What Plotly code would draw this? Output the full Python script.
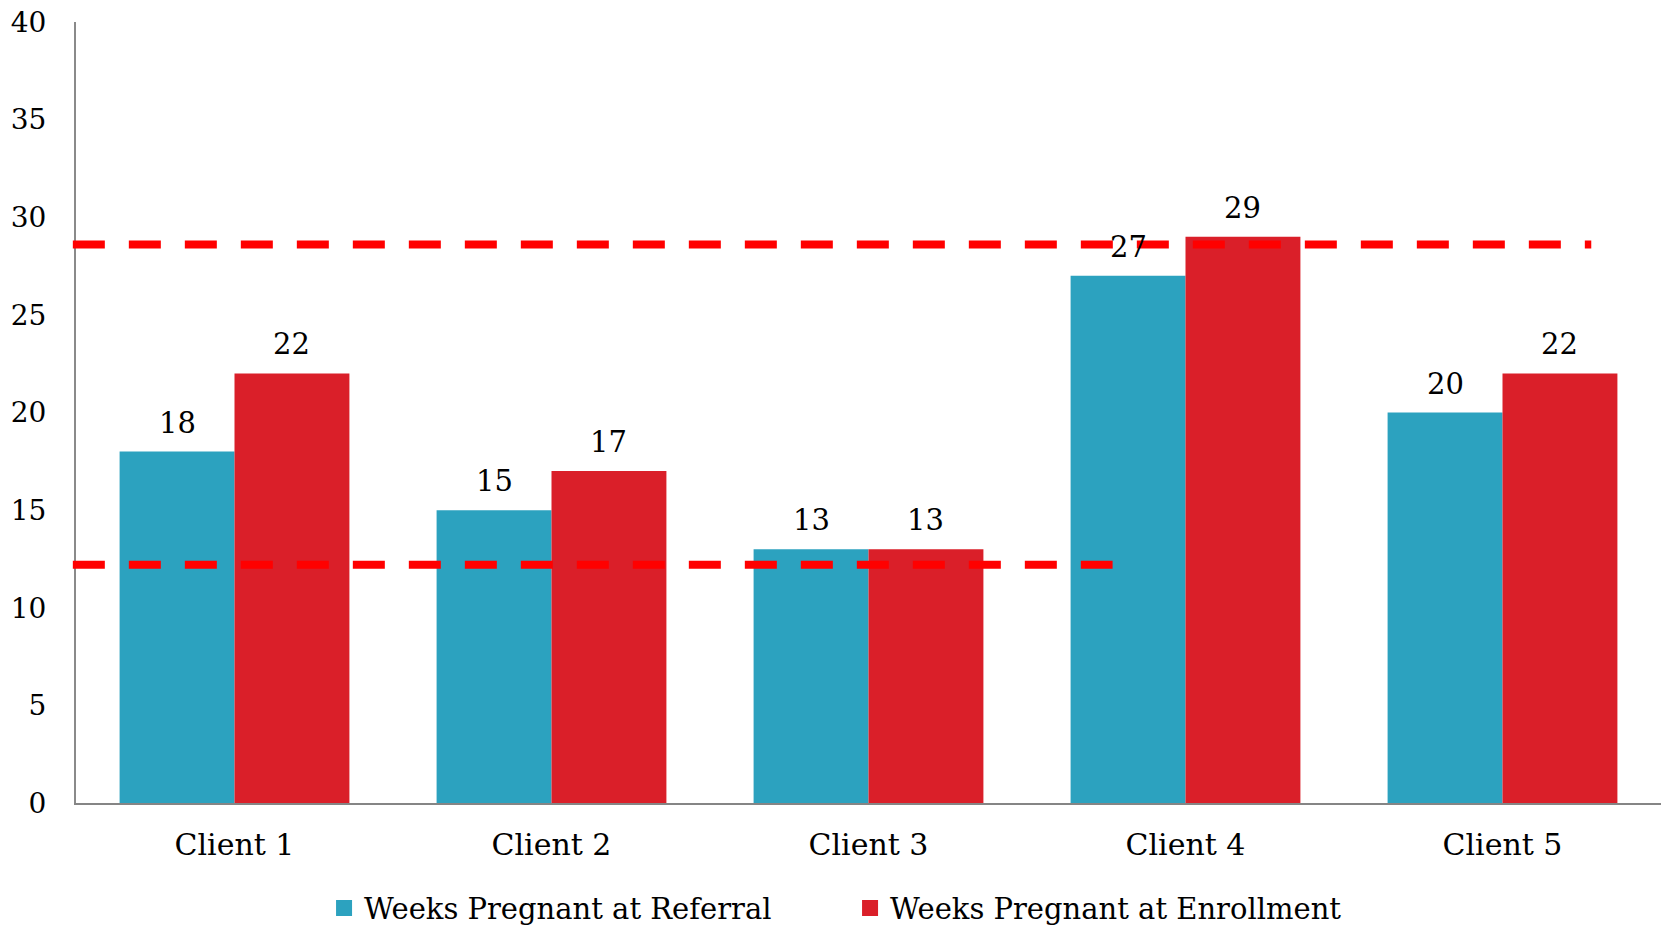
import plotly.graph_objects as go

clients = ["Client 1", "Client 2", "Client 3", "Client 4", "Client 5"]
weeks_referral = [18, 15, 13, 27, 20]
weeks_enrollment = [22, 17, 13, 29, 22]
series_names = ["Weeks Pregnant at Referral", "Weeks Pregnant at Enrollment"]
y_ticks = [0, 5, 10, 15, 20, 25, 30, 35, 40]
upper_ref_level = 28.6
lower_ref_level = 12.2

BLUE = "#2CA2BF"
RED = "#DA1F29"
FONT = "DejaVu Serif"

fig = go.Figure()
fig.add_trace(go.Bar(x=clients, y=weeks_referral, name=series_names[0],
                     marker=dict(color=BLUE, line=dict(width=0)), showlegend=False))
fig.add_trace(go.Bar(x=clients, y=weeks_enrollment, name=series_names[1],
                     marker=dict(color=RED, line=dict(width=0)), showlegend=False))

# legend entries with larger square swatches
for name, col in zip(series_names, [BLUE, RED]):
    fig.add_trace(go.Scatter(x=[None], y=[None], mode="markers", name=name,
                             marker=dict(symbol="square", size=16, color=col)))

# value labels above each bar
bargap = 0.275
half = (1 - bargap) / 4  # offset of each bar centre in category units
plot_w = 1661 - 76
cat_px = plot_w / len(clients)
for series, sign in [(weeks_referral, -1), (weeks_enrollment, 1)]:
    for c, v in zip(clients, series):
        fig.add_annotation(x=c, y=v, text=str(v), showarrow=False,
                           xshift=sign * half * cat_px, yshift=10, yanchor="bottom",
                           font=dict(family=FONT, size=29, color="#000000"))

# dashed reference lines
fig.add_shape(type="line", xref="paper", yref="y", x0=-0.002, x1=0.956,
              y0=upper_ref_level, y1=upper_ref_level,
              line=dict(color="#FF0000", width=8, dash="32px,24px"), layer="above")
fig.add_shape(type="line", xref="paper", yref="y", x0=-0.002, x1=0.654,
              y0=lower_ref_level, y1=lower_ref_level,
              line=dict(color="#FF0000", width=8, dash="32px,24px"), layer="above")

fig.update_layout(
    width=1661, height=926,
    margin=dict(l=76, r=0, t=22, b=123, autoexpand=False),
    paper_bgcolor="white", plot_bgcolor="white",
    barmode="group", bargap=bargap, bargroupgap=0,
    font=dict(family=FONT, color="#000000"),
    legend=dict(orientation="h", x=0.1565, xanchor="left", y=-0.1345, yanchor="middle",
                font=dict(family=FONT, size=29), itemclick=False, entrywidth=481),
)
fig.update_xaxes(showline=True, linecolor="#858585", linewidth=2, showgrid=False,
                 ticks="", tickfont=dict(family=FONT, size=30), ticklabelstandoff=14)
fig.update_yaxes(range=[0, 40], tickvals=y_ticks, showline=True, linecolor="#8a8a8a",
                 linewidth=2, showgrid=False, zeroline=False, ticks="",
                 tickfont=dict(family=FONT, size=28), ticklabelstandoff=22)

fig.write_html("out.html")
